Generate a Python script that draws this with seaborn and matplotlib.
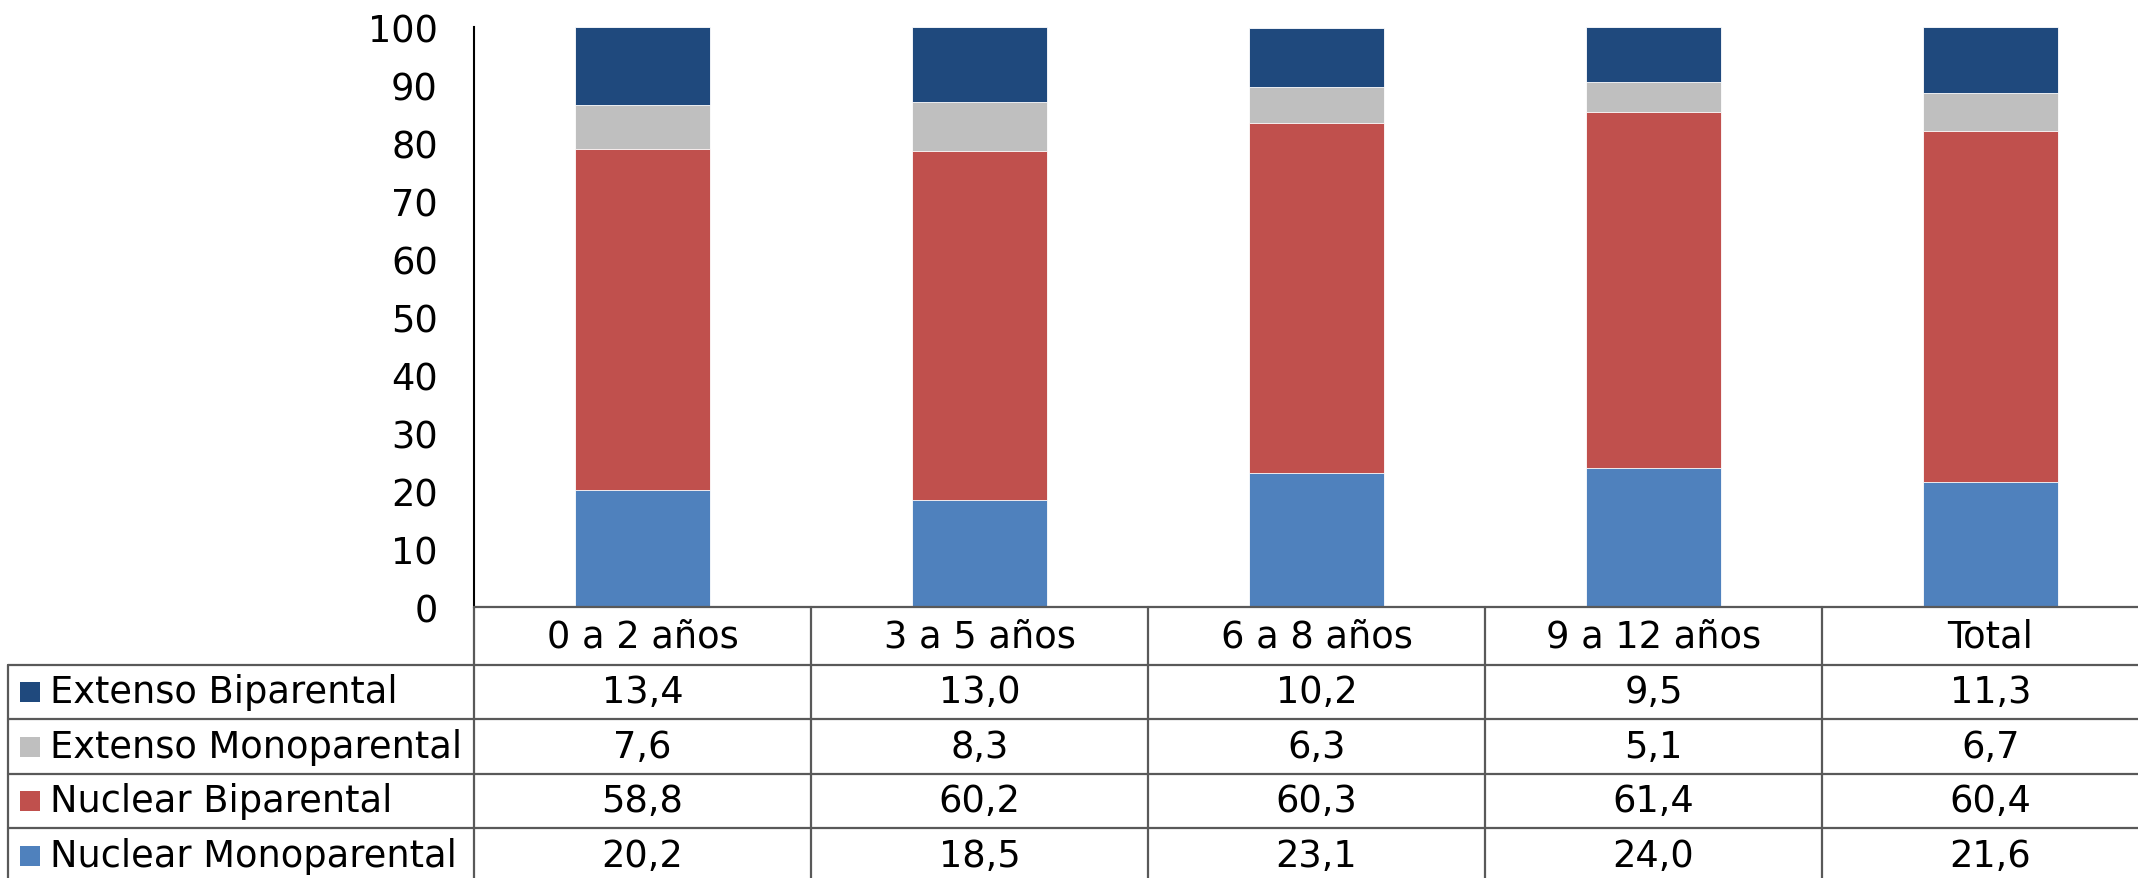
import numpy as np
import pandas as pd
import seaborn as sns
import matplotlib.pyplot as plt
import matplotlib.transforms as mtransforms
from matplotlib.lines import Line2D
from matplotlib.patches import Rectangle

# datos (porcentaje por tipo de hogar y grupo de edad)
grupos = ['0 a 2 años', '3 a 5 años', '6 a 8 años', '9 a 12 años', 'Total']
nuclear_mono = [20.2, 18.5, 23.1, 24.0, 21.6]
nuclear_bi = [58.8, 60.2, 60.3, 61.4, 60.4]
extenso_mono = [7.6, 8.3, 6.3, 5.1, 6.7]
extenso_bi = [13.4, 13.0, 10.2, 9.5, 11.3]

series = ['Nuclear Monoparental', 'Nuclear Biparental', 'Extenso Monoparental', 'Extenso Biparental']
colores = ['#4F81BD', '#C0504D', '#BFBFBF', '#1F497D']

df = pd.DataFrame({'grupo': grupos,
                   series[0]: nuclear_mono,
                   series[1]: nuclear_bi,
                   series[2]: extenso_mono,
                   series[3]: extenso_bi})

sns.set_style('white')
plt.rcParams['font.family'] = ['DejaVu Sans']
plt.rcParams['text.color'] = 'black'
plt.rcParams['ytick.color'] = 'black'
FS = 26.5

W, H = 2138, 879
fig = plt.figure(figsize=(W / 100, H / 100), dpi=100)
col_w = 337
ax = fig.add_axes([474 / W, (H - 608) / H, 5 * col_w / W, (608 - 28) / H])

# barras apiladas: se dibujan los acumulados de arriba hacia abajo
acum = df[series].cumsum(axis=1)
for i in reversed(range(len(series))):
    sns.barplot(x=df['grupo'], y=acum[series[i]], order=grupos, color=colores[i],
                width=0.4, saturation=1, errorbar=None, ax=ax,
                edgecolor='white', linewidth=0.6)

ax.set_ylim(0, 100)
ax.set_xlim(-0.5, 4.5)
ax.set_yticks(np.arange(0, 101, 10))
ax.set_xticks([])
ax.set_xlabel('')
ax.set_ylabel('')
ax.tick_params(axis='y', length=0, pad=26, labelsize=FS, labelcolor='black')
for s in ['top', 'right', 'bottom']:
    ax.spines[s].set_visible(False)
ax.spines['left'].set_color('black')
ax.spines['left'].set_linewidth(1.5)

# tabla de datos debajo del grafico
def fy(px):
    return 1 - px / H

lc = '#595959'
trans = mtransforms.blended_transform_factory(ax.transData, fig.transFigure)
fig.add_artist(Line2D([-0.5, 4.5], [fy(608), fy(608)], transform=trans, color=lc, lw=1.6))
for k in range(6):
    fig.add_artist(Line2D([k - 0.5, k - 0.5], [fy(608), 0], transform=trans, color=lc, lw=1.6))
filas = [666, 720, 775, 829]
for y in filas:
    fig.add_artist(Line2D([8 / W, 1], [fy(y), fy(y)], color=lc, lw=1.6))
fig.add_artist(Line2D([8 / W, 8 / W], [fy(666), 0], color=lc, lw=1.6))

for k, g in enumerate(grupos):
    fig.text(k, fy(637), g, transform=trans, ha='center', va='center', fontsize=FS)

bordes = filas + [884]
orden_tabla = list(reversed(range(len(series))))
for r, i in enumerate(orden_tabla):
    yc = fy((bordes[r] + bordes[r + 1]) / 2)
    fig.add_artist(Rectangle((20 / W, yc - 10 / H), 20 / W, 20 / H,
                             transform=fig.transFigure, color=colores[i], lw=0))
    fig.text(50 / W, yc, series[i], ha='left', va='center', fontsize=FS)
    for k, v in enumerate(df[series[i]]):
        fig.text(k, yc, f'{v:.1f}'.replace('.', ','), transform=trans,
                 ha='center', va='center', fontsize=FS)

fig.savefig('out.png', dpi=100)
